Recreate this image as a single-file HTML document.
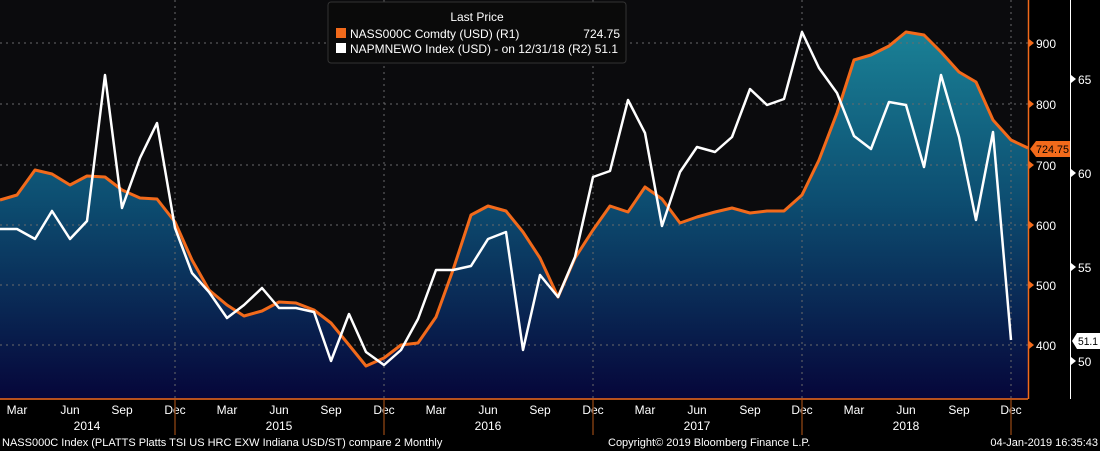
<!DOCTYPE html>
<html><head><meta charset="utf-8"><style>
html,body{margin:0;padding:0;background:#000;}
svg{display:block;font-family:"Liberation Sans",sans-serif;}
</style></head><body>
<svg width="1100" height="451" viewBox="0 0 1100 451">
<defs>
<linearGradient id="g" x1="0" y1="30" x2="0" y2="399" gradientUnits="userSpaceOnUse">
<stop offset="0" stop-color="#1a8196"/>
<stop offset="0.45" stop-color="#0d4f72"/>
<stop offset="1" stop-color="#06063a"/>
</linearGradient>
</defs>
<rect width="1100" height="451" fill="#000"/>
<rect width="1028" height="399" fill="#0b0b0d"/>
<polygon fill="url(#g)" points="0,200 17,195 35,170 52,174 70,185 87,176 105,177 122,190 140,198 157,199 175,222 192,260 209,290 227,305 244,316 262,311 279,302 296,303 314,310 331,323 349,345 366,366 384,358 401,345 418,343 436,317 453,270 471,215 488,206 506,211 523,232 540,258 558,297 575,258 593,230 610,206 628,212 645,187 662,199 680,223 697,217 715,212 732,208 750,213 767,211 784,211 802,195 819,160 837,113 854,60 871,55 889,46 906,32 924,35 941,52 959,72 976,82 993,120 1011,140 1028,148 1028,399 0,399"/>
<g stroke="#6a6a6a" stroke-width="1" stroke-dasharray="2,4" fill="none">
<line x1="0" y1="43" x2="1028" y2="43"/><line x1="0" y1="104" x2="1028" y2="104"/>
<line x1="0" y1="165" x2="1028" y2="165"/><line x1="0" y1="225" x2="1028" y2="225"/>
<line x1="0" y1="285" x2="1028" y2="285"/><line x1="0" y1="345" x2="1028" y2="345"/>
<line x1="175" y1="0" x2="175" y2="399"/><line x1="384" y1="0" x2="384" y2="399"/>
<line x1="593" y1="0" x2="593" y2="399"/><line x1="802" y1="0" x2="802" y2="399"/>
<line x1="1011" y1="0" x2="1011" y2="399"/>
</g>
<polyline fill="none" stroke="#f26a1b" stroke-width="3" stroke-linejoin="round" points="0,200 17,195 35,170 52,174 70,185 87,176 105,177 122,190 140,198 157,199 175,222 192,260 209,290 227,305 244,316 262,311 279,302 296,303 314,310 331,323 349,345 366,366 384,358 401,345 418,343 436,317 453,270 471,215 488,206 506,211 523,232 540,258 558,297 575,258 593,230 610,206 628,212 645,187 662,199 680,223 697,217 715,212 732,208 750,213 767,211 784,211 802,195 819,160 837,113 854,60 871,55 889,46 906,32 924,35 941,52 959,72 976,82 993,120 1011,140 1028,148"/>
<polyline fill="none" stroke="#fff" stroke-width="2.5" stroke-linejoin="round" points="0,229 17,229 35,239 52,211 70,239 87,221 105,75 122,208 140,158 157,123 175,228 192,273 209,292 227,318 244,305 262,288 279,308 296,308 314,312 331,361 349,314 366,352 384,365 401,350 418,319 436,270 453,270 471,266 488,239 506,232 523,350 540,275 558,297 575,257 593,177 610,171 628,100 645,133 662,226 680,172 697,147 715,152 732,137 750,89 767,105 784,99 802,32 819,68 837,93 854,136 871,149 889,102 906,105 924,167 941,75 959,137 976,220 993,132 1011,340"/>
<rect x="328" y="2" width="298" height="61" rx="3" fill="#0a0a0a" stroke="#333"/>
<text x="477" y="21" fill="#fff" font-size="12" text-anchor="middle">Last Price</text>
<rect x="336" y="28" width="10" height="10" fill="#f26a1b"/>
<text x="350" y="38" fill="#fff" font-size="12">NASS000C Comdty (USD)  (R1)</text>
<text x="620" y="38" fill="#fff" font-size="12" text-anchor="end">724.75</text>
<rect x="336" y="43" width="10" height="10" fill="#fff"/>
<text x="350" y="53" fill="#fff" font-size="12" textLength="268" lengthAdjust="spacingAndGlyphs">NAPMNEWO Index (USD) -  on 12/31/18  (R2) 51.1</text>
<line x1="1028.5" y1="0" x2="1028.5" y2="399" stroke="#f26a1b" stroke-width="1.5"/>
<line x1="0" y1="399" x2="1028" y2="399" stroke="#f26a1b" stroke-width="1.5"/>
<line x1="1070.5" y1="0" x2="1070.5" y2="399" stroke="#fff" stroke-width="1"/>
<g fill="#fff" font-size="12">
<text x="1036" y="48">900</text><text x="1036" y="109">800</text><text x="1036" y="170">700</text>
<text x="1036" y="230">600</text><text x="1036" y="290">500</text><text x="1036" y="350">400</text>
<text x="1078" y="84">65</text><text x="1078" y="178">60</text><text x="1078" y="272">55</text><text x="1078" y="366">50</text>
</g>
<g fill="#f26a1b"><path d="M1029,39 l5,4 l-5,4z"/><path d="M1029,100 l5,4 l-5,4z"/><path d="M1029,161 l5,4 l-5,4z"/><path d="M1029,221 l5,4 l-5,4z"/><path d="M1029,281 l5,4 l-5,4z"/><path d="M1029,341 l5,4 l-5,4z"/></g>
<g fill="#fff"><path d="M1071,75 l5,4 l-5,4z"/><path d="M1071,169 l5,4 l-5,4z"/><path d="M1071,263 l5,4 l-5,4z"/><path d="M1071,357 l5,4 l-5,4z"/></g>
<path d="M1030,149 l6,-8 h34 v16 h-34z" fill="#f26a1b"/>
<text x="1036" y="153" fill="#000" font-size="11" textLength="33" lengthAdjust="spacingAndGlyphs">724.75</text>
<path d="M1072,341 l5,-8 h23 v16 h-23z" fill="#fff"/>
<text x="1078" y="345" fill="#000" font-size="11" textLength="20" lengthAdjust="spacingAndGlyphs">51.1</text>
<g fill="#fff" font-size="12" text-anchor="middle">
<text x="17" y="414">Mar</text><text x="70" y="414">Jun</text><text x="122" y="414">Sep</text><text x="175" y="414">Dec</text>
<text x="227" y="414">Mar</text><text x="279" y="414">Jun</text><text x="331" y="414">Sep</text><text x="384" y="414">Dec</text>
<text x="436" y="414">Mar</text><text x="488" y="414">Jun</text><text x="540" y="414">Sep</text><text x="593" y="414">Dec</text>
<text x="645" y="414">Mar</text><text x="697" y="414">Jun</text><text x="750" y="414">Sep</text><text x="802" y="414">Dec</text>
<text x="854" y="414">Mar</text><text x="906" y="414">Jun</text><text x="959" y="414">Sep</text><text x="1011" y="414">Dec</text>
<text x="87" y="430">2014</text><text x="279" y="430">2015</text><text x="488" y="430">2016</text><text x="697" y="430">2017</text><text x="906" y="430">2018</text>
</g>
<g stroke="#7a3a10" stroke-width="1.5"><line x1="175" y1="400" x2="175" y2="435"/><line x1="384" y1="400" x2="384" y2="435"/><line x1="593" y1="400" x2="593" y2="435"/><line x1="802" y1="400" x2="802" y2="435"/><line x1="1011" y1="400" x2="1011" y2="435"/></g>
<g fill="#fff" font-size="11">
<text x="2" y="446">NASS000C Index (PLATTS Platts TSI US HRC EXW Indiana USD/ST) compare 2  Monthly</text>
<text x="608" y="446">Copyright© 2019 Bloomberg Finance L.P.</text>
<text x="1098" y="446" text-anchor="end">04-Jan-2019 16:35:43</text>
</g>
</svg>
</body></html>
